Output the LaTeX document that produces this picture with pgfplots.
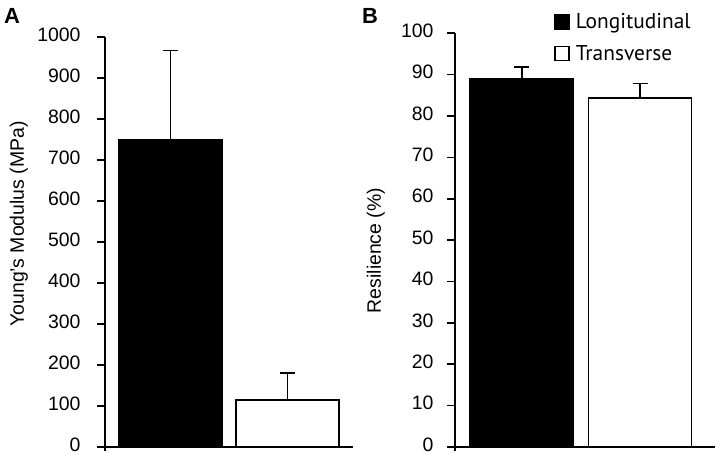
\documentclass[border=0pt]{standalone}
\usepackage{fontspec}
\setmainfont{Liberation Sans}
\newfontfamily\legfont{PT Sans}
\usepackage{pgfplots}
\pgfplotsset{compat=1.18}
\begin{document}
\begin{tikzpicture}
\useasboundingbox (0,0) rectangle (720bp,455bp);
\pgfplotsset{
  myax/.style={
    x=1bp, xmin=0, ymin=0,
    axis x line=bottom, axis y line=left,
    axis line style={-, line width=1.6bp, black},
    x axis line style={shorten <=-8bp},
    y axis line style={shorten <=-4bp},
    xtick=\empty,
    tick align=outside,
    major tick length=8bp,
    ytick style={line width=1.6bp, black},
    tick label style={font=\fontsize{19.5}{21}\selectfont, /pgf/number format/assume math mode=true, yshift=2.5bp},
    label style={font=\fontsize{19.5}{22}\selectfont},
    clip=false,
    /pgf/number format/1000 sep={},
    legend image code/.code={\draw[#1] (0bp,-7bp) rectangle (14bp,7bp);},
  },
  mybar/.style={ybar, bar width=103bp, bar shift=0pt, draw=black, line width=1.6bp, forget plot,
    error bars/y dir=plus, error bars/y explicit,
    error bars/error bar style={line width=1.6bp, black},
    error bars/error mark options={rotate=90, mark size=7.5bp, line width=1.6bp, black}},
}
\begin{axis}[myax, at={(105bp,8bp)}, anchor=south west, xmax=248, y=0.41bp, ymax=1000,
  ytick={0,100,...,1000},
  yticklabel style={xshift=-13bp},
  ylabel={Young’s Modulus (MPa)},
  ylabel style={at={(axis description cs:-0.347,0.544)}, anchor=center}]
\addplot[mybar, fill=black] coordinates {(65.5,750) +- (0,217)};
\addplot[mybar, fill=white] coordinates {(182.5,115) +- (0,65)};
\end{axis}
\begin{axis}[myax, at={(455bp,8bp)}, anchor=south west, xmax=260, y=4.137bp, ymax=100,
  ytick={0,10,...,100},
  yticklabel style={xshift=-10bp},
  ylabel={Resilience (\%)},
  ylabel style={at={(axis description cs:-0.304,0.475)}, anchor=center},
  legend style={at={(axis description cs:0.37,1.058)}, anchor=north west, draw=none, fill=none,
    font=\fontsize{21.5}{23}\legfont\selectfont, row sep=11bp,
    /tikz/every odd column/.append style={column sep=4bp}},
  legend cell align=left]
\addplot[mybar, fill=black] coordinates {(66.7,89.1) +- (0,2.8)};
\addplot[mybar, fill=white] coordinates {(185,84.3) +- (0,3.6)};
\addlegendimage{fill=black, draw=black, line width=1.4bp}
\addlegendentry{Longitudinal}
\addlegendimage{fill=white, draw=black, line width=1.4bp}
\addlegendentry{Transverse}
\end{axis}
\node[anchor=base west, font=\bfseries\fontsize{22}{24}\selectfont, inner sep=0pt] at (4bp,431bp) {A};
\node[anchor=base west, font=\bfseries\fontsize{22}{24}\selectfont, inner sep=0pt] at (362bp,431bp) {B};
\end{tikzpicture}
\end{document}
